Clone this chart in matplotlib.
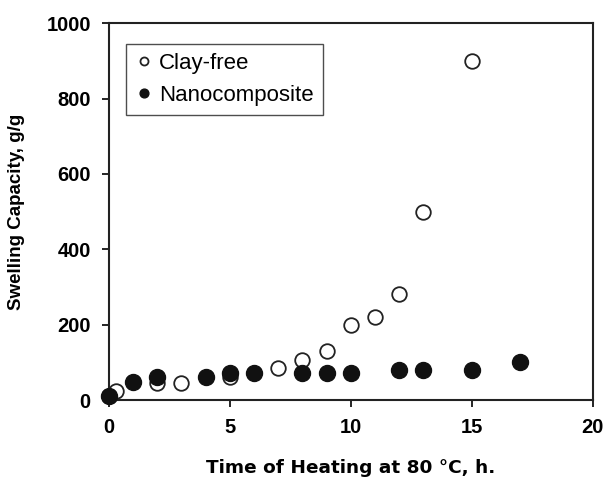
import numpy as np
import matplotlib
matplotlib.use('Agg')
import matplotlib.pyplot as plt

plt.rcParams['font.family'] = ['Liberation Sans', 'DejaVu Sans']

# clay-free (open circles)
t_clay = [0, 0.3, 2, 3, 5, 7, 8, 9, 10, 11, 12, 13, 15]
s_clay = [10, 25, 45, 45, 62, 85, 105, 130, 198, 220, 282, 500, 900]

# nanocomposite (filled circles)
t_nano = [0, 1, 2, 4, 5, 6, 8, 9, 10, 12, 13, 15, 17]
s_nano = [12, 47, 60, 62, 72, 72, 72, 72, 72, 80, 80, 80, 100]

fig = plt.figure(figsize=(6.08, 4.82), dpi=100)
ax = fig.add_axes([0.179, 0.170, 0.796, 0.782])

ax.plot(t_clay, s_clay, 'o', mfc='white', mec='#222222', mew=1.3, ms=10.5,
        label='Clay-free', zorder=2, clip_on=False)
ax.plot(t_nano, s_nano, 'o', mfc='#111111', mec='#111111', ms=11.5,
        label='Nanocomposite', zorder=3, clip_on=False)

ax.set_xlim(0, 20)
ax.set_ylim(0, 1000)
ax.set_xticks([0, 5, 10, 15, 20])
ax.set_yticks([0, 200, 400, 600, 800, 1000])
ax.tick_params(direction='out', length=5, width=1.2, labelsize=14.5, pad=8)
for lab in ax.get_xticklabels() + ax.get_yticklabels():
    lab.set_fontweight('bold')
for sp in ax.spines.values():
    sp.set_linewidth(1.5)
    sp.set_color('#222222')

ax.set_xlabel('Time of Heating at 80 \u00b0C, h.', fontsize=13.3, fontweight='bold',
              labelpad=16, family='DejaVu Sans')
ax.set_ylabel('Swelling Capacity, g/g', fontsize=13.5, fontweight='bold', labelpad=15)

leg = ax.legend(loc='upper left', bbox_to_anchor=(0.035, 0.944), fontsize=16,
                frameon=True, fancybox=False, handletextpad=0.3,
                borderpad=0.4, labelspacing=0.5, handlelength=0.8,
                borderaxespad=0, markerscale=0.55)
leg.get_frame().set_edgecolor('#222222')
leg.get_frame().set_linewidth(1.0)

fig.savefig('out.png', dpi=100)
